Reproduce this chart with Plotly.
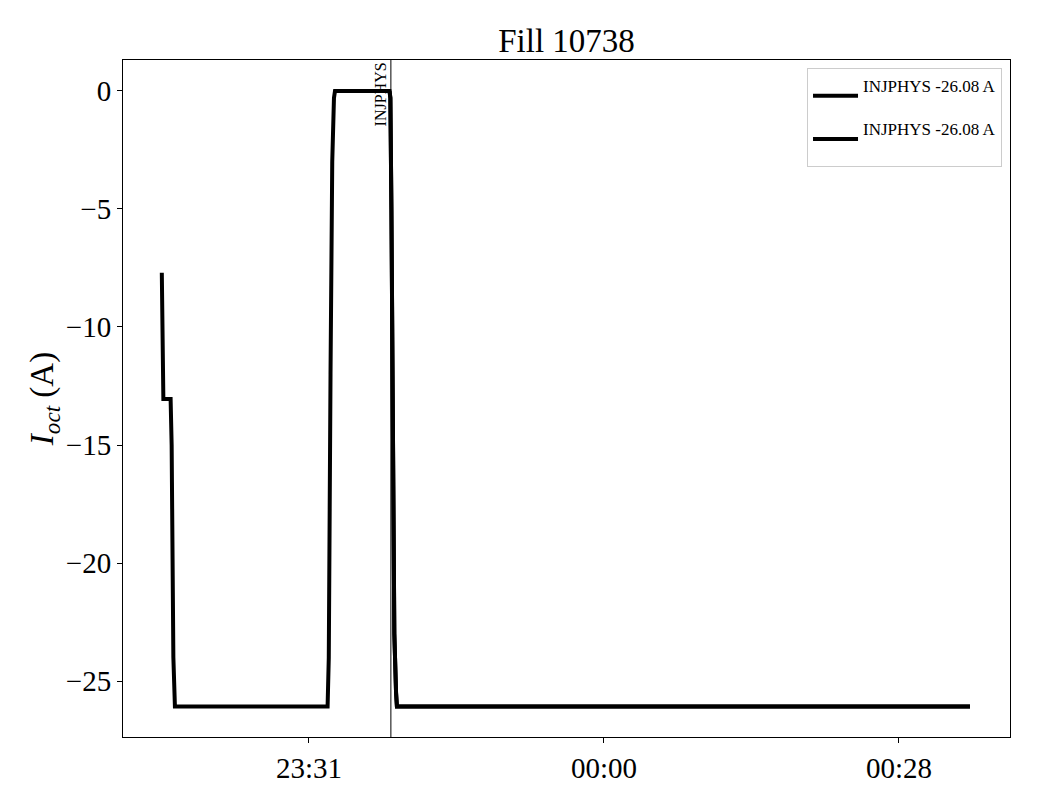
import plotly.graph_objects as go

# Data
day1 = "2023-07-14 "
day2 = "2023-07-15 "
times = [
    day1 + "23:17:17", day1 + "23:17:20", day1 + "23:17:26", day1 + "23:18:08",
    day1 + "23:18:14", day1 + "23:18:24", day1 + "23:18:33", day1 + "23:33:18",
    day1 + "23:33:25", day1 + "23:33:35", day1 + "23:33:45", day1 + "23:33:55",
    day1 + "23:34:01", day1 + "23:39:17", day1 + "23:39:22", day1 + "23:39:28",
    day1 + "23:39:35", day1 + "23:39:45", day1 + "23:39:55", day1 + "23:40:00",
    day2 + "00:35:22",
]
current = [
    -7.7, -11.0, -13.05, -13.05,
    -15.0, -24.0, -26.08, -26.08,
    -24.0, -12.0, -3.0, -0.3,
    0.0, 0.0, -0.3, -5.0,
    -14.0, -23.0, -25.5, -26.08,
    -26.08,
]
marker_time = day1 + "23:39:25"
marker_label = "INJPHYS"
legend_label = "INJPHYS -26.08 A"
tick_vals = [day1 + "23:31:30", day2 + "00:00:00", day2 + "00:28:30"]
tick_text = ["23:31", "00:00", "00:28"]
y_ticks = [0, -5, -10, -15, -20, -25]

FONT = "Liberation Serif"
leg_name = "<span style='font-size:17px'>" + legend_label + "</span><br> "

fig = go.Figure()
fig.add_trace(go.Scatter(x=times, y=current, mode="lines",
                         line=dict(color="black", width=4),
                         name=leg_name))
fig.add_trace(go.Scatter(x=times[13:], y=current[13:], mode="lines",
                         line=dict(color="black", width=4),
                         name=leg_name))

fig.add_shape(type="line", x0=marker_time, x1=marker_time, xref="x",
              y0=0, y1=1, yref="paper", line=dict(color="black", width=1))
fig.add_annotation(x=marker_time, xref="x", y=1, yref="paper",
                   text=marker_label, textangle=-90, showarrow=False,
                   xanchor="right", yanchor="top",
                   font=dict(family=FONT, size=16, color="black"))

fig.update_layout(
    width=1040, height=800,
    margin=dict(l=115, r=38, t=52, b=71),
    paper_bgcolor="white", plot_bgcolor="white",
    font=dict(family=FONT, color="black"),
    title=dict(text="Fill 10738", x=0.5, xref="paper", y=0.974, yref="container",
               xanchor="center", font=dict(family=FONT, size=33, color="black")),
    showlegend=True,
    legend=dict(x=0.991, y=0.988, xanchor="right", yanchor="top",
                bgcolor="white", bordercolor="#cccccc", borderwidth=1,
                font=dict(family=FONT, size=15.5, color="black"),
                itemwidth=45, valign="middle", traceorder="normal"),
)
fig.update_xaxes(
    range=[day1 + "23:13:32", day2 + "00:39:14"],
    tickvals=tick_vals, ticktext=tick_text,
    showgrid=False, zeroline=False,
    showline=True, linecolor="black", linewidth=1, mirror=True,
    ticks="outside", ticklen=5, tickcolor="black",
    tickfont=dict(family=FONT, size=29, color="black"),
)
fig.update_yaxes(
    range=[-27.37, 1.31],
    tickvals=y_ticks,
    showgrid=False, zeroline=False,
    showline=True, linecolor="black", linewidth=1, mirror=True,
    ticks="outside", ticklen=5, tickcolor="black",
    tickfont=dict(family=FONT, size=29, color="black"),
    title=dict(text="<i>I</i><sub><i>oct</i></sub> (A)",
               font=dict(family=FONT, size=33, color="black"), standoff=2),
)

fig.write_html("out.html")
